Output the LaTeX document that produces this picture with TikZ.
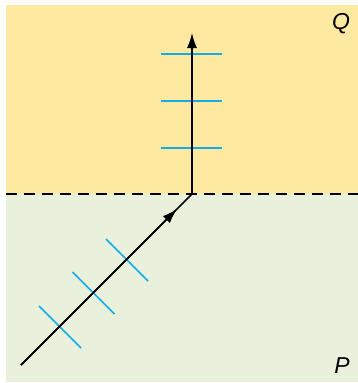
\documentclass[tikz,border=0pt]{standalone}
\usepackage{fontspec}
\setmainfont{Liberation Sans}
\usetikzlibrary{arrows.meta}
\definecolor{qyellow}{RGB}{253,233,160}
\definecolor{pgreen}{RGB}{233,240,220}
\definecolor{tick}{RGB}{20,172,230}
\begin{document}
\begin{tikzpicture}[x=1pt,y=-1pt,
  ray/.style={line width=1.5pt,black},
  tickln/.style={line width=1.6pt,tick},
  tip/.style={-{Latex[length=15pt,width=10pt]}},
  lbl/.style={font=\fontsize{23}{25}\selectfont\itshape,inner sep=0pt}]
\useasboundingbox (0,0) rectangle (358,383);
\fill[qyellow] (6,5) rectangle (358,194);
\fill[pgreen] (6,194) rectangle (358,382);
\draw[line width=1.5pt,dash pattern=on 11pt off 7pt] (6,194) -- (358,194);
\coordinate (O) at (192,194);
\coordinate (T) at (192,33);
\coordinate (A) at (21,365);
\coordinate (M) at (177,209);
% ticks on vertical
\foreach \y in {54,101,148} \draw[tickln] (161,\y) -- (222,\y);
% ticks on diagonal
\foreach \cx/\cy in {60/327,93.5/293,127/260}
  \draw[tickln] (\cx-21,\cy-21) -- (\cx+21,\cy+21);
\draw[ray] (A) -- (O);
\draw[ray,tip] (A) -- (M);
\draw[ray,tip] (O) -- (T);
\node[lbl] (q) at (341,24) {Q};
\node[lbl] (p) at (342,366) {P};
\end{tikzpicture}
\end{document}
